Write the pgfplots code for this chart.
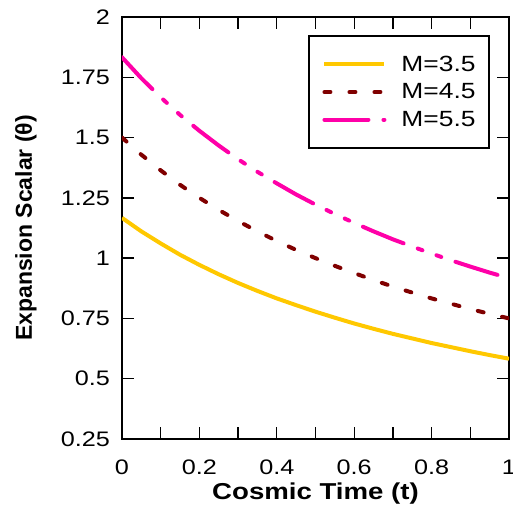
\documentclass[border=0pt]{standalone}
\usepackage{fontspec}
\setmainfont{Liberation Sans}[FakeStretch=1.2]
\newfontfamily\ylfont{Liberation Sans}
\usepackage{pgfplots}
\pgfplotsset{compat=1.18}

\definecolor{mgold}{RGB}{255,200,0}
\definecolor{mred}{RGB}{128,0,0}
\definecolor{mpink}{RGB}{255,0,168}

% theta at M=3.5, 4.5, 5.5
\pgfplotstableread{
t     a      b      c
0     1.167  1.500  1.833
0.05  1.111  1.429  1.746
0.1   1.061  1.364  1.667
0.15  1.014  1.304  1.594
0.2   0.972  1.250  1.528
0.25  0.933  1.200  1.467
0.3   0.897  1.154  1.410
0.35  0.864  1.111  1.358
0.4   0.833  1.071  1.310
0.45  0.805  1.034  1.264
0.5   0.778  1.000  1.222
0.55  0.753  0.968  1.183
0.6   0.729  0.938  1.146
0.65  0.707  0.909  1.111
0.7   0.686  0.882  1.078
0.75  0.667  0.857  1.048
0.8   0.648  0.833  1.019
0.85  0.631  0.811  0.991
0.9   0.614  0.789  0.965
0.95  0.598  0.769  0.940
1     0.583  0.750  0.917
}\thetadata

\begin{document}
\begin{tikzpicture}
\begin{axis}[
    scale only axis,
    width=387pt, height=422pt,
    xmin=0, xmax=1, ymin=0.25, ymax=2,
    xtick={0,0.2,...,1},
    minor xtick={0.1,0.3,0.5,0.7,0.9},
    ytick={0.25,0.5,...,2},
    tick align=inside,
    major tick length=12pt, minor tick length=12pt,
    every tick/.style={black, line width=1.3pt},
    axis line style={line width=1.6pt},
    /pgf/number format/assume math mode=true,
    ticklabel style={font=\fontsize{21}{21}\selectfont},
    xticklabel style={anchor=center, yshift=-28pt},
    yticklabel style={anchor=east, inner sep=0pt, xshift=-12pt},
    xlabel={\fontsize{23}{23}\selectfont\bfseries Cosmic Time (t)},
    xlabel style={at={(axis description cs:0.5,-0.13)}, anchor=center},
    ylabel={\fontsize{23}{23}\selectfont\ylfont\bfseries Expansion Scalar (θ)},
    ylabel style={at={(axis description cs:-0.248,0.5)}, anchor=center},
    legend cell align=left,
    legend image code/.code={\draw[#1] (0pt,0pt) -- (60pt,0pt);},
    legend style={at={(0.481,0.957)}, anchor=north west, draw=black,
        line width=1.6pt, inner xsep=13.5pt, inner ysep=20pt,
        font=\fontsize{22}{22}\selectfont, row sep=11pt,
        nodes={inner sep=0pt}, column sep=15pt},
]
\addplot[mgold, line width=4pt] table[x=t, y=a] {\thetadata};
\addplot[mred, line width=4pt, line cap=round, dash pattern=on 6pt off 19pt] table[x=t, y=b] {\thetadata};
\addplot[mpink, line width=4pt, line cap=round, dash pattern=on 44pt off 15pt on 5pt off 15pt on 5pt off 15pt] table[x=t, y=c] {\thetadata};
\legend{M=3.5, M=4.5, M=5.5}
\end{axis}
\pgfresetboundingbox
\path[use as bounding box] ([xshift=-122pt,yshift=-67pt]current axis.south west) rectangle ([xshift=4pt,yshift=17pt]current axis.north east);
\end{tikzpicture}
\end{document}
